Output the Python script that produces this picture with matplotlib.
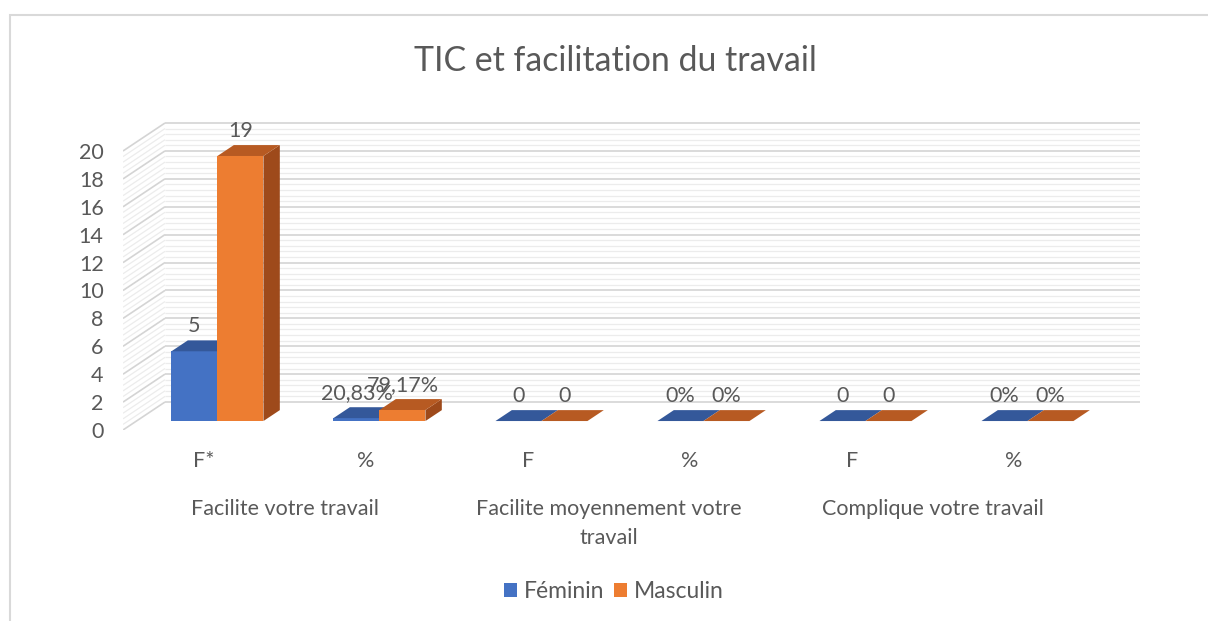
import matplotlib
matplotlib.use("Agg")
import matplotlib.pyplot as plt
from matplotlib.patches import Polygon, Rectangle, Patch

plt.rcParams['font.family'] = ['Lato', 'DejaVu Sans']

title = "TIC et facilitation du travail"
categories = ["F*", "%", "F", "%", "F", "%"]
groups = ["Facilite votre travail", "Facilite moyennement votre\ntravail",
          "Complique votre travail"]
series = ["Féminin", "Masculin"]
feminin = [5, 0.2083, 0, 0, 0, 0]
masculin = [19, 0.7917, 0, 0, 0, 0]
labels_f = ["5", "20,83%", "0", "0%", "0", "0%"]
labels_m = ["19", "79,17%", "0", "0%", "0", "0%"]
yticks = list(range(0, 21, 2))

# colours: front, top, side
blue = ("#4472C4", "#34589A", "#2F528F")
orange = ("#ED7D31", "#B75A22", "#9E4A1B")
txt = "#595959"
fs = 15.5

fig = plt.figure(figsize=(12.08, 6.21), dpi=100)

# outer frame
fig.add_artist(Rectangle((10 / 1208, -0.1), 1.2, 1 - 15 / 621 + 0.1,
                         transform=fig.transFigure, fill=False,
                         ec="#d9d9d9", lw=1.5))

ax = fig.add_axes([123 / 1208, (621 - 430) / 621, 1017 / 1208, 310 / 621])
ax.set_xlim(-0.5, -0.5 + 1017 / 162)
ax.set_ylim(0, 310 / 13.95)
for s in ax.spines.values():
    s.set_visible(False)

# depth of the 3d box in data units
DX = 42 / 162
DY = 28 / 13.95
zf, zb = 0.32, 0.71
bw = 46 / 162
x_end = ax.get_xlim()[1]


def proj(x, y, z):
    return (x + z * DX, y + z * DY)


# walls: minor then major gridlines
minor = [i * 0.4 for i in range(0, 51)]
for v in minor:
    major = abs(v / 2 - round(v / 2)) < 1e-6
    c = "#d4d4d4" if major else "#ececec"
    lw = 1.2 if major else 0.9
    zo = 1.2 if major else 1.1
    ax.plot([-0.5, -0.5 + DX], [v, v + DY], color=c, lw=lw, zorder=zo,
            solid_capstyle="butt")
    ax.plot([-0.5 + DX, x_end], [v + DY, v + DY], color=c, lw=lw, zorder=zo,
            solid_capstyle="butt")


def bar3d(xl, v, cols):
    xr = xl + bw
    front = [proj(xl, 0, zf), proj(xr, 0, zf), proj(xr, v, zf), proj(xl, v, zf)]
    top = [proj(xl, v, zf), proj(xr, v, zf), proj(xr, v, zb), proj(xl, v, zb)]
    side = [proj(xr, 0, zf), proj(xr, 0, zb), proj(xr, v, zb), proj(xr, v, zf)]
    ax.add_patch(Polygon(side, closed=True, fc=cols[2], ec="none", zorder=3))
    ax.add_patch(Polygon(front, closed=True, fc=cols[0], ec="none", zorder=3))
    ax.add_patch(Polygon(top, closed=True, fc=cols[1], ec="none", zorder=3))


for i in range(len(categories)):
    for k, (vals, labs, cols) in enumerate([(feminin, labels_f, blue),
                                            (masculin, labels_m, orange)]):
        xl = i - bw + k * bw
        bar3d(xl, vals[i], cols)
        cx, ty = proj(xl + bw / 2, vals[i], zf)
        _, by = proj(xl, vals[i], zb)
        ax.annotate(labs[i], (cx, by), xytext=(0, 10), textcoords="offset points",
                    ha="center", va="center", fontsize=fs, color=txt, zorder=5,
                    annotation_clip=False)

ax.set_yticks(yticks)
ax.set_yticklabels([str(t) for t in yticks], fontsize=fs, color=txt)
ax.tick_params(axis="y", length=0, pad=14)
ax.set_xticks(range(len(categories)))
ax.set_xticklabels(categories, fontsize=fs, color=txt)
ax.tick_params(axis="x", length=0, pad=15)

for g, name in enumerate(groups):
    ax.annotate(name, (2 * g + 0.5, 0), xycoords=("data", "axes fraction"),
                xytext=(0, -50), textcoords="offset points", ha="center",
                va="top", fontsize=fs, color=txt, linespacing=1.55,
                annotation_clip=False)

fig.text(615 / 1208, 1 - 61 / 621, title, ha="center", va="center",
         fontsize=24.4, color=txt)

handles = [Patch(fc=blue[0]), Patch(fc=orange[0])]
fig.legend(handles, series, loc="center", bbox_to_anchor=(614 / 1208, 1 - 592 / 621),
           ncol=2, frameon=False, fontsize=16.5, handlelength=0.55,
           handleheight=0.55, handletextpad=0.3, columnspacing=0.45,
           labelcolor=txt)

fig.savefig("out.png", dpi=100)
